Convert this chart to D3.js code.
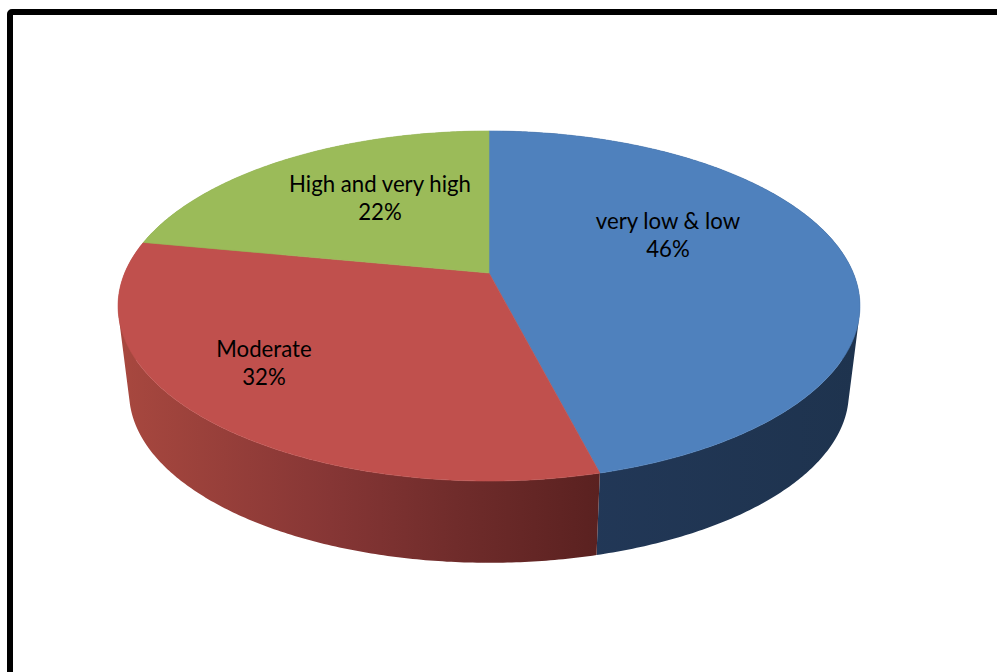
<!DOCTYPE html>
<html>
<head>
<meta charset="utf-8">
<script src="https://cdn.jsdelivr.net/npm/d3@7/dist/d3.min.js"></script>
<style>
  html, body { margin: 0; padding: 0; background: #fff; overflow: hidden; }
  svg { display: block; }
  text { font-family: Lato, "Noto Sans", sans-serif; font-size: 22.2px; fill: #000; text-anchor: middle; }
</style>
</head>
<body>
<svg id="chart" width="997" height="672"></svg>
<script>
// Risk level shares, in percent, clockwise from twelve o'clock
const categories = ["very low & low", "Moderate", "High and very high"];
const shares = [46, 32, 22];
const topColors = ["#4f81bd", "#c0504d", "#9bbb59"];

const svg = d3.select("#chart");

// Chart frame; it runs past the right and bottom of the page
svg.append("rect")
  .attr("x", 10).attr("y", 12)
  .attr("width", 1100).attr("height", 800)
  .attr("rx", 2)
  .attr("fill", "#fff").attr("stroke", "#000").attr("stroke-width", 6);

// Perspective view of a disc: near rim is lower and looks larger than the far rim
const view = { cx: 489, topHub: 273, baseHub: 361, rx: 364.3, ry: 168.8, k: 0.1886, baseScale: 0.97 };

function project(angle, hubY, scale) {
  const u = Math.sin(angle), v = -Math.cos(angle);
  const w = 1 - view.k * v;
  return [view.cx + scale * view.rx * u / w, hubY + scale * view.ry * v / w];
}

const slices = d3.pie().sort(null).startAngle(0).endAngle(2 * Math.PI)(shares);
const outline = d3.line();

function rimAngles(d) {
  const n = Math.max(2, Math.ceil((d.endAngle - d.startAngle) / 0.01));
  return d3.range(n + 1).map(i => d.startAngle + (d.endAngle - d.startAngle) * i / n);
}

// The wall is swept as one path of narrow quads, all wound the same way,
// so that its edge follows the straight tangent between the two rims
function wallPath(d) {
  const angles = rimAngles(d);
  return d3.pairs(angles).map(([a, b]) => {
    const quad = [
      project(a, view.topHub, 1), project(b, view.topHub, 1),
      project(b, view.baseHub, view.baseScale), project(a, view.baseHub, view.baseScale)
    ];
    if (d3.polygonArea(quad) < 0) quad.reverse();
    return outline(quad) + "Z";
  }).join("");
}

// Shading of the outer wall, darkening towards the front-right
const defs = svg.append("defs");
const wallShades = [
  [["#23395a", 0], ["#1e334e", 1]],
  [["#a8483f", 0], ["#863635", 0.44], ["#702c2b", 0.7], ["#5a2120", 1]],
  [["#7d9a46", 0], ["#7d9a46", 1]]
];
slices.forEach((d, i) => {
  const xs = rimAngles(d).map(a => project(a, view.topHub, 1)[0]);
  const grad = defs.append("linearGradient")
    .attr("id", "wall" + i).attr("gradientUnits", "userSpaceOnUse")
    .attr("x1", d3.min(xs)).attr("x2", d3.max(xs)).attr("y1", 0).attr("y2", 0);
  wallShades[i].forEach(([c, o]) => grad.append("stop").attr("offset", o).attr("stop-color", c));
});

// Outer walls first, the top face then covers the far side of them
svg.append("g").selectAll("path").data(slices).join("path")
  .attr("d", wallPath)
  .attr("fill", (d, i) => `url(#wall${i})`);

// Top face; a hairline in the slice colour closes the seams between slices
svg.append("g").selectAll("path").data(slices).join("path")
  .attr("d", d => outline([[view.cx, view.topHub]].concat(rimAngles(d).map(a => project(a, view.topHub, 1)))) + "Z")
  .attr("fill", (d, i) => topColors[i])
  .attr("stroke", (d, i) => topColors[i])
  .attr("stroke-width", 0.6)
  .attr("stroke-linejoin", "round");

// Two-line data labels
const labelAnchors = [[668, 229], [264, 357], [380, 192]];
const labels = svg.append("g").selectAll("text").data(slices).join("text")
  .attr("transform", (d, i) => `translate(${labelAnchors[i]})`);
labels.append("tspan").attr("x", 0).attr("y", 0).text((d, i) => categories[i]);
labels.append("tspan").attr("x", 0).attr("y", 28).text(d => d.data + "%");
</script>
</body>
</html>
